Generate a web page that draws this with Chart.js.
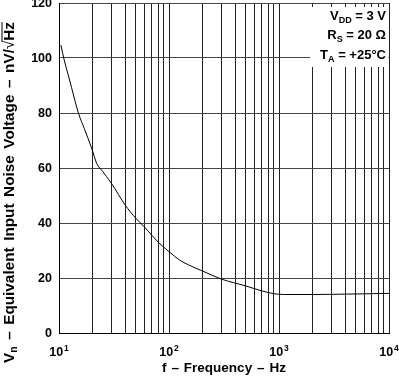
<!DOCTYPE html>
<html>
<head>
<meta charset="utf-8">
<script src="https://cdn.jsdelivr.net/npm/chart.js@4.4.0/dist/chart.umd.min.js"></script>
<style>
  body { margin: 0; background: #fff; }
</style>
</head>
<body>
<canvas id="chart" width="399" height="376"></canvas>
<script>
// values
const freq  = [10.4, 11.1, 12, 13, 15, 17, 19.8, 22, 25, 27, 30, 40, 50, 60, 70, 80, 100, 125, 150, 200, 300, 500, 700, 900, 1100, 2000, 5000, 10000];
const noise = [104.7, 99.6, 94.5, 89.3, 80, 74.3, 67.2, 61.7, 58.7, 56.9, 54.4, 46.5, 41.7, 38.5, 35.5, 33, 29.6, 26.5, 24.8, 22.6, 19.6, 17.1, 15.3, 14.3, 14.0, 14.0, 14.2, 14.4];

const xTicks = [10, 20, 30, 40, 50, 60, 70, 80, 90,
                100, 200, 300, 400, 500, 600, 700, 800, 900,
                1000, 2000, 3000, 4000, 5000, 6000, 7000, 8000, 9000, 10000];
const xLabels = [[10, '1'], [100, '2'], [1000, '3'], [10000, '4']];
const yTicks = [0, 20, 40, 60, 80, 100, 120];
const notes = [['V', 'DD', ' = 3 V'], ['R', 'S', ' = 20 Ω'], ['T', 'A', ' = +25°C']];

const FONT = '"Liberation Sans", Arial, Helvetica, sans-serif';

// draws tokens in a row; spaces stretch so the run fills totalW
function drawRun(ctx, tokens, x0, y, totalW) {
  let natural = 0, spaces = 0;
  tokens.forEach(t => {
    ctx.font = t.font;
    t.w = ctx.measureText(t.t).width;
    natural += t.w;
    if (t.t === ' ') spaces++;
  });
  const extra = spaces ? Math.max(0, (totalW - natural) / spaces) : 0;
  let x = x0;
  tokens.forEach(t => {
    ctx.font = t.font;
    if (t.t !== ' ') ctx.fillText(t.t, x, y + (t.dy || 0));
    if (t.over) ctx.fillRect(x - 1, y - Math.round(t.cap), t.w + 1, 1);
    x += t.w + (t.t === ' ' ? extra : 0);
  });
}

function words(str, font) {
  const out = [];
  str.split(/( )/).forEach(s => { if (s) out.push({ t: s, font }); });
  return out;
}

function yTitleTokens(size) {
  const f = 'bold ' + size + 'px ' + FONT;
  return [{ t: 'V', font: f }, { t: 'n', font: 'bold ' + (size * 0.68) + 'px ' + FONT, dy: 3 }]
    .concat(words(' – Equivalent Input Noise Voltage – nV/', f))
    .concat([{ t: '√', font: size + 'px ' + FONT }, { t: 'Hz', font: f, over: true, cap: size * 0.8 }]);
}

const textPlugin = {
  id: 'texts',
  afterDraw(chart) {
    const ctx = chart.ctx;
    const xs = chart.scales.x, ys = chart.scales.y;
    const area = chart.chartArea;
    ctx.save();
    ctx.fillStyle = '#000';

    // y tick labels
    ctx.font = 'bold 12.5px ' + FONT;
    ctx.textAlign = 'right';
    ctx.textBaseline = 'middle';
    yTicks.forEach(v => ctx.fillText(String(v), 52, ys.getPixelForValue(v) + 1));

    // x tick labels 10^n
    ctx.textBaseline = 'alphabetic';
    ctx.textAlign = 'left';
    xLabels.forEach(([v, e]) => {
      ctx.font = 'bold 12.5px ' + FONT;
      const wb = ctx.measureText('10').width;
      ctx.font = 'bold 8.5px ' + FONT;
      const we = ctx.measureText(e).width;
      const x = xs.getPixelForValue(v) - (wb + we + 1) / 2;
      ctx.font = 'bold 12.5px ' + FONT;
      ctx.fillText('10', x, 356);
      ctx.font = 'bold 8.5px ' + FONT;
      ctx.fillText(e, x + wb + 1, 351);
    });

    // x title
    drawRun(ctx, words('f – Frequency – Hz', 'bold 13.5px ' + FONT), 162, 372, 124);

    // y title, rotated; font sized so the run spans the same length as the reference
    let natural = 0;
    yTitleTokens(14).forEach(t => { ctx.font = t.font; natural += ctx.measureText(t.t).width; });
    const size = Math.min(16.5, 14 * (341 - 16) / natural);
    ctx.save();
    ctx.translate(8, 192);
    ctx.rotate(-Math.PI / 2);
    drawRun(ctx, yTitleTokens(size), -171, 5.5, 341);
    ctx.restore();

    // conditions box
    const f13 = 'bold 13px ' + FONT;
    ctx.fillStyle = '#fff';
    ctx.fillRect(310, 7, area.right - 310 - 0.5, 60);
    ctx.fillStyle = '#000';
    const base = [19.5, 39, 58.5];
    notes.forEach(([a, sub, rest], i) => {
      ctx.font = f13;
      const wa = ctx.measureText(a).width;
      const wr = ctx.measureText(rest).width;
      ctx.font = 'bold 9px ' + FONT;
      const ws = ctx.measureText(sub).width;
      let x = 386 - wa - ws - wr;
      ctx.font = f13;
      ctx.fillText(a, x, base[i]);
      ctx.font = 'bold 9px ' + FONT;
      ctx.fillText(sub, x + wa, base[i] + 3);
      ctx.font = f13;
      ctx.fillText(rest, x + wa + ws, base[i]);
    });
    ctx.restore();
  }
};

new Chart(document.getElementById('chart').getContext('2d'), {
  type: 'line',
  data: {
    datasets: [{
      data: freq.map((f, i) => ({ x: f, y: noise[i] })),
      borderColor: '#000',
      borderWidth: 1,
      pointRadius: 0,
      cubicInterpolationMode: 'monotone',
      fill: false
    }]
  },
  options: {
    responsive: false,
    animation: false,
    devicePixelRatio: 1,
    layout: { padding: { left: 59, right: 10, top: 3, bottom: 43 } },
    plugins: { legend: { display: false }, tooltip: { enabled: false } },
    scales: {
      x: {
        type: 'logarithmic',
        min: 10,
        max: 10000,
        afterBuildTicks: s => { s.ticks = xTicks.map(v => ({ value: v })); },
        ticks: { display: false },
        grid: { color: '#222', lineWidth: 1, drawTicks: false },
        border: { display: true, color: '#000' }
      },
      y: {
        min: 0,
        max: 120,
        afterBuildTicks: s => { s.ticks = yTicks.map(v => ({ value: v })); },
        ticks: { display: false },
        grid: { color: '#444', lineWidth: 1, drawTicks: false },
        border: { display: true, color: '#000' }
      }
    }
  },
  plugins: [textPlugin]
});
</script>
</body>
</html>
